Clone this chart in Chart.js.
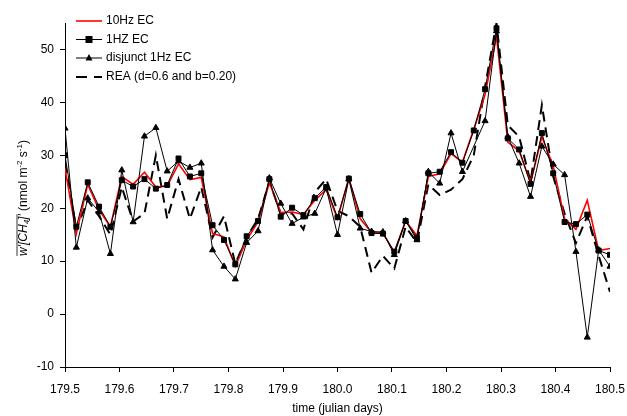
<!DOCTYPE html>
<html>
<head>
<meta charset="utf-8">
<script src="https://cdn.jsdelivr.net/npm/chart.js@4.4.1/dist/chart.umd.min.js"></script>
<style>
    body { margin: 0; background: #fff; }
    #wrap { width: 627px; height: 416px; }
</style>
</head>
<body>
<div id="wrap"><canvas id="myChart" width="627" height="416"></canvas></div>
<script>
// time (julian days), half-hourly
var times = [179.5000, 179.5208, 179.5417, 179.5625, 179.5833, 179.6042, 179.6250, 179.6458, 179.6667, 179.6875,
    179.7083, 179.7292, 179.7500, 179.7708, 179.7917, 179.8125, 179.8333, 179.8542, 179.8750, 179.8958,
    179.9167, 179.9375, 179.9583, 179.9792, 180.0000, 180.0208, 180.0417, 180.0625, 180.0833, 180.1042,
    180.1250, 180.1458, 180.1667, 180.1875, 180.2083, 180.2292, 180.2500, 180.2708, 180.2917, 180.3125,
    180.3333, 180.3542, 180.3750, 180.3958, 180.4167, 180.4375, 180.4583, 180.4792, 180.5000];

// 10Hz EC
var ec10Hz = [27.5, 15.2, 24.5, 19.7, 16.5, 26.0, 24.5, 26.8, 24.0, 24.2,
    28.4, 25.4, 25.8, 15.2, 14.6, 9.0, 14.0, 17.4, 24.8, 19.2,
    19.3, 18.8, 21.5, 23.5, 18.0, 25.7, 18.0, 15.4, 15.3, 11.7,
    17.6, 14.8, 26.0, 26.5, 30.3, 28.7, 34.9, 41.5, 52.5, 32.5,
    30.8, 24.8, 33.5, 28.0, 18.0, 16.0, 21.5, 12.0, 12.4];

// 1HZ EC
var ec1Hz = [30.0, 16.5, 24.9, 20.3, 16.5, 25.3, 24.1, 25.5, 23.7, 24.4,
    29.4, 26.0, 26.6, 16.8, 14.0, 9.4, 14.7, 17.6, 25.5, 18.4,
    20.1, 18.7, 21.9, 24.0, 18.3, 25.6, 18.9, 15.3, 15.2, 11.8,
    17.6, 14.4, 26.6, 26.9, 30.6, 28.6, 34.7, 42.5, 54.0, 33.2,
    31.1, 24.6, 34.2, 26.6, 17.4, 17.0, 18.8, 12.0, 11.2];

// disjunct 1Hz EC (no value at 180.25)
var disjunct = [35.1, 12.6, 21.9, 19.3, 11.4, 27.2, 17.4, 33.6, 35.2, 27.0,
    28.9, 27.7, 28.5, 12.1, 9.0, 6.6, 13.5, 15.7, 25.7, 20.9,
    17.1, 18.3, 19.0, 23.8, 15.0, 25.5, 16.2, 15.6, 15.5, 11.2,
    17.6, 14.0, 26.9, 24.7, 34.2, 26.9, null, 36.5, 53.5, 33.5,
    28.5, 22.2, 31.7, 28.3, 26.3, 11.8, -4.4, 12.1, 9.0];

// REA (d=0.6 and b=0.20)
var rea = [28.5, 16.0, 21.5, 18.5, 15.0, 24.0, 17.5, 19.0, 30.0, 18.0,
    25.5, 18.0, 24.0, 14.5, 18.5, 9.5, 14.5, 18.0, 25.0, 19.0,
    19.0, 16.0, 23.0, 25.5, 19.5, 18.5, 16.5, 7.8, 11.0, 8.6,
    16.5, 13.5, 24.5, 22.5, 23.5, 25.5, 30.0, 43.0, 55.0, 35.7,
    33.5, 25.0, 39.5, 26.0, 19.0, 13.4, 18.5, 11.0, 4.2];

var xTicks = [179.5, 179.6, 179.7, 179.8, 179.9, 180.0, 180.1, 180.2, 180.3, 180.4, 180.5];
var yTicks = [-10, 0, 10, 20, 30, 40, 50];

var FONT = 'Liberation Sans, Arial, sans-serif';

function pts(arr) {
    return arr.map(function (v, i) { return { x: times[i], y: v }; });
}

var datasets = [
    {
        label: '10Hz EC', data: pts(ec10Hz),
        borderColor: '#ff0000', borderWidth: 1.6, pointRadius: 0, order: 2
    },
    {
        label: '1HZ EC', data: pts(ec1Hz),
        borderColor: '#000', backgroundColor: '#000', borderWidth: 1,
        pointStyle: 'rect', pointRadius: 3.5, order: 0
    },
    {
        label: 'disjunct 1Hz EC', data: pts(disjunct), spanGaps: true,
        borderColor: '#000', backgroundColor: '#000', borderWidth: 1,
        pointStyle: 'triangle', pointRadius: 3.5, order: 1
    },
    {
        label: 'REA (d=0.6 and b=0.20)', data: pts(rea),
        borderColor: '#000', borderWidth: 2, borderDash: [10, 6], pointRadius: 0, order: 3
    }
];

// legend inside the plot, top left
var legendPlugin = {
    id: 'insideLegend',
    afterDraw: function (chart) {
        var ctx = chart.ctx;
        var ys = [21, 39.5, 58, 77];
        ctx.save();
        datasets.forEach(function (ds, i) {
            var y = ys[i];
            ctx.beginPath();
            ctx.strokeStyle = ds.borderColor;
            ctx.lineWidth = ds.borderWidth;
            ctx.setLineDash(ds.borderDash ? [11, 7] : []);
            ctx.moveTo(76, y);
            ctx.lineTo(102, y);
            ctx.stroke();
            ctx.setLineDash([]);
            ctx.fillStyle = '#000';
            if (ds.pointStyle === 'rect') {
                ctx.fillRect(89 - 3.5, y - 3.5, 7, 7);
            } else if (ds.pointStyle === 'triangle') {
                ctx.beginPath();
                ctx.moveTo(89, y - 4);
                ctx.lineTo(92.5, y + 2.5);
                ctx.lineTo(85.5, y + 2.5);
                ctx.closePath();
                ctx.fill();
            }
            ctx.font = '12px ' + FONT;
            ctx.textBaseline = 'middle';
            ctx.textAlign = 'left';
            ctx.fillText(ds.label, 106, y);
        });
        ctx.restore();
    }
};

// y axis title: overline on w'[CH4]', sub/superscripts
var yTitlePlugin = {
    id: 'yTitle',
    afterDraw: function (chart) {
        var ctx = chart.ctx;
        var parts = [
            { t: "w'[CH", f: 'italic 12px ', dy: 0, bar: true },
            { t: '4', f: 'italic 8px ', dy: 3, bar: true },
            { t: "]'", f: 'italic 12px ', dy: 0, bar: true },
            { t: ' (nmol m', f: '12px ', dy: 0 },
            { t: '-2', f: '8px ', dy: -4 },
            { t: ' s', f: '12px ', dy: 0 },
            { t: '-1', f: '8px ', dy: -4 },
            { t: ')', f: '12px ', dy: 0 }
        ];
        ctx.save();
        var total = 0;
        parts.forEach(function (p) {
            ctx.font = p.f + FONT;
            p.w = ctx.measureText(p.t).width;
            total += p.w;
        });
        ctx.translate(24, 198);
        ctx.rotate(-Math.PI / 2);
        ctx.fillStyle = '#000';
        ctx.textBaseline = 'middle';
        ctx.textAlign = 'left';
        var x = -total / 2;
        var barEnd = x;
        parts.forEach(function (p) {
            ctx.font = p.f + FONT;
            ctx.fillText(p.t, x, p.dy);
            x += p.w;
            if (p.bar) barEnd = x;
        });
        ctx.beginPath();
        ctx.strokeStyle = '#000';
        ctx.lineWidth = 0.8;
        ctx.moveTo(-total / 2, -7);
        ctx.lineTo(barEnd, -7);
        ctx.stroke();
        ctx.restore();
    }
};

new Chart(document.getElementById('myChart'), {
    type: 'line',
    data: { datasets: datasets },
    options: {
        responsive: false,
        animation: false,
        devicePixelRatio: 1,
        layout: { padding: { top: 23, right: 17, left: 0, bottom: 0 } },
        plugins: {
            legend: { display: false },
            tooltip: { enabled: false }
        },
        elements: { line: { tension: 0 } },
        scales: {
            x: {
                type: 'linear',
                min: 179.5,
                max: 180.5,
                afterBuildTicks: function (scale) {
                    scale.ticks = xTicks.map(function (v) { return { value: v }; });
                },
                afterFit: function (scale) {
                    scale.height = 49;
                    scale.paddingLeft = 0;
                    scale.paddingRight = 0;
                },
                ticks: {
                    color: '#000',
                    font: { family: FONT, size: 12 },
                    padding: 10,
                    maxRotation: 0,
                    autoSkip: false,
                    callback: function (v) { return v.toFixed(1); }
                },
                grid: { drawOnChartArea: false, drawTicks: true, tickLength: 5, color: '#000' },
                border: { display: true, color: '#000', width: 1 },
                title: {
                    display: true,
                    text: 'time (julian days)',
                    color: '#000',
                    font: { family: FONT, size: 12 },
                    padding: { top: 0, bottom: 0 }
                }
            },
            y: {
                min: -10,
                max: 55,
                afterBuildTicks: function (scale) {
                    scale.ticks = yTicks.map(function (v) { return { value: v }; });
                },
                afterFit: function (scale) {
                    scale.width = 65;
                    scale.paddingTop = 0;
                    scale.paddingBottom = 0;
                },
                ticks: {
                    color: '#000',
                    font: { family: FONT, size: 12 },
                    padding: 6
                },
                grid: { drawOnChartArea: false, drawTicks: true, tickLength: 5, color: '#000' },
                border: { display: true, color: '#000', width: 1 }
            }
        }
    },
    plugins: [legendPlugin, yTitlePlugin]
});
</script>
</body>
</html>
